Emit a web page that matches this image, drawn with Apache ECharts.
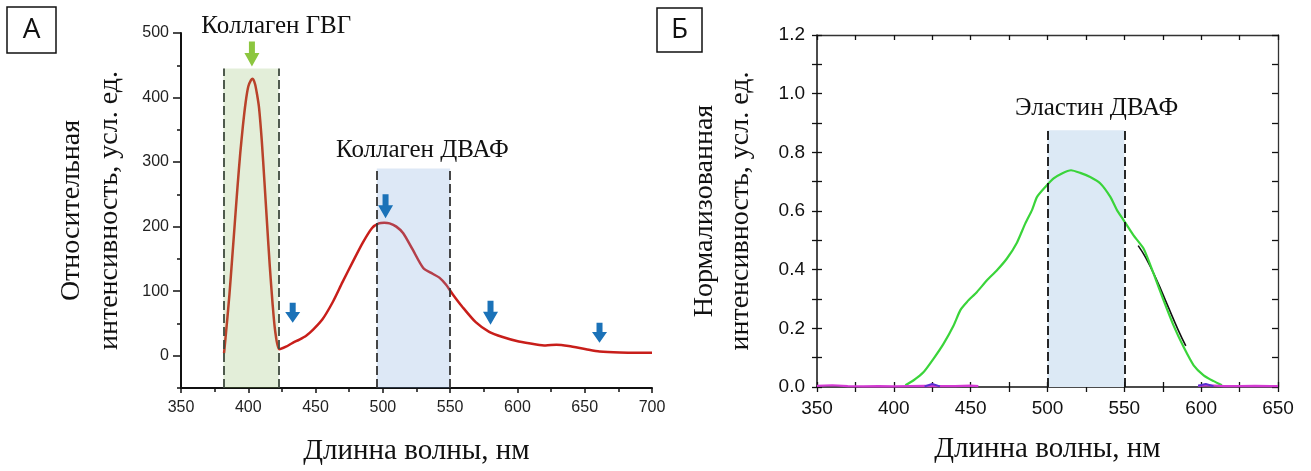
<!DOCTYPE html>
<html>
<head>
<meta charset="utf-8">
<script src="https://cdn.jsdelivr.net/npm/echarts@6/dist/echarts.min.js"></script>
<style>html,body{margin:0;padding:0;background:#fff}#c{width:1311px;height:471px}</style>
</head>
<body>
<div id="c"></div>
<script>
// ---------- Data: panel А ----------
const redX = [382,384,386,388,390,392,394,396,398,400,402,403.3,405,406.5,408,410,412,414,416,418,420,423,428,433,438,443,448,455,463,470,478,485,492,497,501,505,510,515,522,530,537,542,547,552,559,569,579,589,601,614,621,629,638,651,661,676,700];
const redY = [4,48,95,150,206,262,313,356,392,417,427,429,421,405,384,334,270,203,138,82,38,10,14,20,25,31,40,56,84,114,147,175,198,205,206,205,200,190,165,136,127,121,110,95,76,52,37,29,22,17.5,16,17,15,10,6.5,5,4.5];
const gvgBand = [381.5, 422.5, 445];      // from, to, top
const dvafBandA = [495.5, 550, 290];
const arrowsA = [[433, 51], [502, 213], [580, 48], [661, 20]];   // wavelength, tip value
const greenArrowA = [402.7, 448];
const labelGVG = ['Коллаген ГВГ', 420.8, 500];
const labelDVAF_A = ['Коллаген ДВАФ', 529.3, 318];
const yTicksA = [0,100,200,300,400,500];
const yMinorA = [-50,50,150,250,350,450];

// ---------- Data: panel Б ----------
const greenX = [407.5,412.9,419.4,425.9,432.4,438.9,443.3,447.6,454.1,460.6,467.1,473.6,480.1,485.5,489.9,493.2,498.6,504,509.4,515.3,521.3,527.8,534.4,540.9,545.2,549.5,556,562.5,569,575.5,582,588.6,595.1,601.6,608.1,613.5];
const greenY = [0.006,0.023,0.051,0.097,0.148,0.21,0.262,0.29,0.324,0.364,0.398,0.438,0.492,0.557,0.603,0.648,0.682,0.711,0.728,0.739,0.73,0.716,0.694,0.648,0.603,0.569,0.517,0.472,0.387,0.296,0.21,0.136,0.074,0.04,0.02,0.006];
const blackX = [559,564,571,578,585,590];
const blackY = [0.482,0.44,0.365,0.28,0.195,0.14];
const magentaX = [350,360,370,380,390,400,410,420,430,440,450,455,null,598,605,615,625,635,645,650];
const magentaY = [0.004,0.006,0.003,0.002,0.003,0.002,0.003,0.004,0.003,0.003,0.005,0.003,null,0.004,0.006,0.003,0.003,0.004,0.003,0.003];
const purpleX = [420,425,430,null,598,603,608];
const purpleY = [0.002,0.01,0.002,null,0.004,0.01,0.003];
const dvafBandB = [500, 550, 0.875];
const labelElastin = ['Эластин ДВАФ', 532, 0.95];

const zip = (a, b) => a.map((v, i) => (v === null ? [null, null] : [v, b[i]]));
const SERIF = 'Liberation Serif, Times New Roman, serif';
const SANS = 'Liberation Sans, Arial, sans-serif';
const arrowPath = 'path://M4.5,0 L10.5,0 L10.5,11 L15,11 L7.5,24 L0,11 L4.5,11 Z';

const chart = echarts.init(document.getElementById('c'), null, {renderer: 'canvas'});
const dash = {type: [9, 4], width: 1.8};

const option = {
  animation: false,
  backgroundColor: '#fff',
  grid: [
    {left: 181, top: 33, width: 471, height: 356},
    {left: 817, top: 35, width: 461, height: 352}
  ],
  xAxis: [
    { gridIndex: 0, type: 'value', min: 350, max: 700, interval: 50,
      axisLine: {onZero: false, lineStyle: {color: '#111', width: 2}},
      axisTick: {length: 5, lineStyle: {color: '#111', width: 1.5}},
      minorTick: {show: true, splitNumber: 2, length: 4, lineStyle: {color: '#111', width: 1.5}},
      splitLine: {show: false},
      axisLabel: {margin: 12, fontFamily: 'Liberation Sans Narrow, ' + SANS, fontSize: 16, color: '#222'},
      name: 'Длинна волны, нм', nameLocation: 'middle', nameGap: 49,
      nameTextStyle: {fontFamily: SERIF, fontSize: 29, color: '#111'}
    },
    { gridIndex: 1, type: 'value', min: 350, max: 650, interval: 50,
      axisLine: {onZero: false, lineStyle: {color: '#111', width: 1.5}},
      axisTick: {length: 5, lineStyle: {color: '#111', width: 1.3}},
      minorTick: {show: true, splitNumber: 2, length: 5, lineStyle: {color: '#111', width: 1.3}},
      splitLine: {show: false},
      axisLabel: {margin: 12, fontFamily: SANS, fontSize: 19, color: '#111'},
      name: 'Длинна волны, нм', nameLocation: 'middle', nameGap: 48,
      nameTextStyle: {fontFamily: SERIF, fontSize: 29, color: '#111'}
    },
    { gridIndex: 1, type: 'value', min: 350, max: 650, interval: 25, position: 'bottom',
      axisLine: {show: false, onZero: false}, axisLabel: {show: false}, splitLine: {show: false},
      axisTick: {inside: true, length: 5, lineStyle: {color: '#111', width: 1.3}}
    },
    { gridIndex: 1, type: 'value', min: 350, max: 650, interval: 25, position: 'top',
      axisLine: {show: true, onZero: false, lineStyle: {color: '#333', width: 1.3}}, axisLabel: {show: false}, splitLine: {show: false},
      axisTick: {inside: true, length: 5, lineStyle: {color: '#111', width: 1.3}}
    }
  ],
  yAxis: [
    { gridIndex: 0, type: 'value', min: -50, max: 500, position: 'left',
      axisLine: {show: true, onZero: false, lineStyle: {color: '#111', width: 2}},
      axisTick: {show: true, length: 8, customValues: yTicksA, lineStyle: {color: '#111', width: 1.5}},
      axisLabel: {customValues: yTicksA, margin: 12, fontFamily: SANS, fontSize: 16, color: '#222'},
      splitLine: {show: false},
      name: 'Относительная\nинтенсивность, усл. ед.', nameLocation: 'middle', nameRotate: 90, nameGap: 52,
      nameTextStyle: {fontFamily: SERIF, fontSize: 28, lineHeight: 38, color: '#111'}
    },
    { gridIndex: 0, type: 'value', min: -50, max: 500, position: 'left',
      axisLine: {show: false, onZero: false}, axisLabel: {show: false}, splitLine: {show: false},
      axisTick: {show: true, length: 4, customValues: yMinorA, lineStyle: {color: '#111', width: 1.5}}
    },
    { gridIndex: 1, type: 'value', min: 0, max: 1.2, interval: 0.2, position: 'left',
      axisLine: {show: true, onZero: false, lineStyle: {color: '#111', width: 1.5}},
      axisTick: {show: true, length: 5, lineStyle: {color: '#111', width: 1.3}},
      minorTick: {show: true, splitNumber: 2, length: 5, lineStyle: {color: '#111', width: 1.3}},
      axisLabel: {margin: 12, fontFamily: SANS, fontSize: 19, color: '#111', formatter: v => v.toFixed(1)},
      splitLine: {show: false},
      name: 'Нормализованная\nинтенсивность, усл. ед.', nameLocation: 'middle', nameRotate: 90, nameGap: 58,
      nameTextStyle: {fontFamily: SERIF, fontSize: 28, lineHeight: 36, color: '#111'}
    },
    { gridIndex: 1, type: 'value', min: 0, max: 1.2, interval: 0.1, position: 'left',
      axisLine: {show: false, onZero: false}, axisLabel: {show: false}, splitLine: {show: false},
      axisTick: {show: true, inside: true, length: 5, lineStyle: {color: '#111', width: 1.3}}
    },
    { gridIndex: 1, type: 'value', min: 0, max: 1.2, interval: 0.1, position: 'right',
      axisLine: {show: true, onZero: false, lineStyle: {color: '#333', width: 1.3}}, axisLabel: {show: false}, splitLine: {show: false},
      axisTick: {show: true, inside: true, length: 6, lineStyle: {color: '#111', width: 1.3}}
    }
  ],
  series: [
    { type: 'line', xAxisIndex: 0, yAxisIndex: 0, data: zip(redX, redY), smooth: 0.25,
      showSymbol: false, z: 3, lineStyle: {color: '#c81e1a', width: 2.5}
    },
    { type: 'line', xAxisIndex: 0, yAxisIndex: 0, data: [], z: 4, silent: true,
      markArea: {silent: true, z: 5, data: [
        [{coord: [gvgBand[0], -50], itemStyle: {color: 'rgba(140,185,95,0.24)'}}, {coord: [gvgBand[1], gvgBand[2]]}],
        [{coord: [dvafBandA[0], -50], itemStyle: {color: 'rgba(120,165,220,0.25)'}}, {coord: [dvafBandA[1], dvafBandA[2]]}]
      ]},
      markLine: {silent: true, z: 6, symbol: 'none', label: {show: false}, data: [
        [{coord: [gvgBand[0], -50], lineStyle: Object.assign({color: '#3e4a3e'}, dash)}, {coord: [gvgBand[0], gvgBand[2]]}],
        [{coord: [gvgBand[1], -50], lineStyle: Object.assign({color: '#3e4a3e'}, dash)}, {coord: [gvgBand[1], gvgBand[2]]}],
        [{coord: [dvafBandA[0], -50], lineStyle: Object.assign({color: '#333'}, dash)}, {coord: [dvafBandA[0], dvafBandA[2]]}],
        [{coord: [dvafBandA[1], -50], lineStyle: Object.assign({color: '#333'}, dash)}, {coord: [dvafBandA[1], dvafBandA[2]]}]
      ]}
    },
    { type: 'line', xAxisIndex: 0, yAxisIndex: 0, data: [], z: 7, silent: true,
      markPoint: {silent: true, z: 7, data: [
        ...arrowsA.map((a, i) => ({coord: a, symbol: arrowPath, symbolSize: (i === 1 || i === 2) ? [15, 24] : [15, 20],
          symbolOffset: [0, (i === 1 || i === 2) ? -12 : -10], itemStyle: {color: '#1b72b8'}, label: {show: false}})),
        {coord: greenArrowA, symbol: arrowPath, symbolSize: [15, 25], symbolOffset: [0, -12.5],
          itemStyle: {color: '#8cc63f'}, label: {show: false}},
        {coord: [labelGVG[1], labelGVG[2]], symbol: 'circle', symbolSize: 1, itemStyle: {color: 'rgba(0,0,0,0)'},
          label: {show: true, position: 'inside', offset: [0, -7], formatter: labelGVG[0], fontFamily: SERIF, fontSize: 25, color: '#111'}},
        {coord: [labelDVAF_A[1], labelDVAF_A[2]], symbol: 'circle', symbolSize: 1, itemStyle: {color: 'rgba(0,0,0,0)'},
          label: {show: true, position: 'inside', formatter: labelDVAF_A[0], fontFamily: SERIF, fontSize: 25, color: '#111'}}
      ]}
    },
    { type: 'line', xAxisIndex: 1, yAxisIndex: 2, data: [], z: 1, silent: true,
      markArea: {silent: true, z: 1, itemStyle: {color: '#dce9f5'}, data: [
        [{coord: [dvafBandB[0], 0]}, {coord: [dvafBandB[1], dvafBandB[2]]}]
      ]},
      markLine: {silent: true, symbol: 'none', label: {show: false}, lineStyle: Object.assign({color: '#111'}, dash), data: [
        [{coord: [dvafBandB[0], 0]}, {coord: [dvafBandB[0], dvafBandB[2]]}],
        [{coord: [dvafBandB[1], 0]}, {coord: [dvafBandB[1], dvafBandB[2]]}]
      ]},
      markPoint: {silent: true, data: [
        {coord: [labelElastin[1], labelElastin[2]], symbol: 'circle', symbolSize: 1, itemStyle: {color: 'rgba(0,0,0,0)'},
          label: {show: true, position: 'inside', formatter: labelElastin[0], fontFamily: SERIF, fontSize: 25, color: '#111'}}
      ]}
    },
    { type: 'line', xAxisIndex: 1, yAxisIndex: 2, data: zip(blackX, blackY), smooth: true, showSymbol: false, z: 2,
      lineStyle: {color: '#111', width: 1.6}
    },
    { type: 'line', xAxisIndex: 1, yAxisIndex: 2, data: zip(greenX, greenY), smooth: 0.2, showSymbol: false, z: 3,
      lineStyle: {color: '#3ad43a', width: 2.2}
    },
    { type: 'line', xAxisIndex: 1, yAxisIndex: 2, data: zip(magentaX, magentaY), showSymbol: false, z: 4, connectNulls: false,
      lineStyle: {color: '#d43ad4', width: 2.2}
    },
    { type: 'line', xAxisIndex: 1, yAxisIndex: 2, data: zip(purpleX, purpleY), showSymbol: false, z: 5, connectNulls: false,
      lineStyle: {color: '#5a2fd0', width: 2}
    }
  ],
  graphic: [
    {type: 'rect', shape: {x: 7, y: 7, width: 49, height: 46}, style: {fill: '#fff', stroke: '#111', lineWidth: 1.5}},
    {type: 'text', x: 31.5, y: 30, style: {text: 'А', font: '28px "Open Sans", sans-serif', fill: '#111', align: 'center', verticalAlign: 'middle'}},
    {type: 'rect', shape: {x: 657, y: 8, width: 45, height: 44}, style: {fill: '#fff', stroke: '#111', lineWidth: 1.5}},
    {type: 'text', x: 679.5, y: 30, style: {text: 'Б', font: '28px "Open Sans", sans-serif', fill: '#111', align: 'center', verticalAlign: 'middle'}}
  ]
};
chart.setOption(option);
</script>
</body>
</html>
